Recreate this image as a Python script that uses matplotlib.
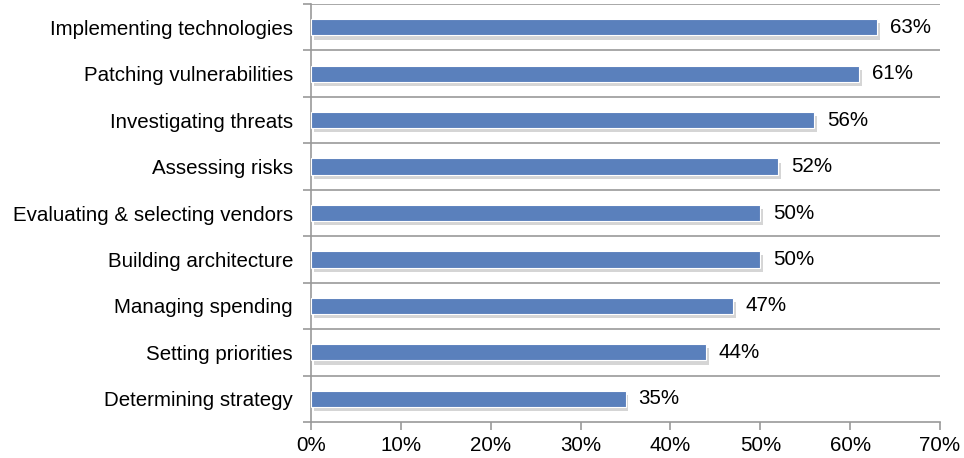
import matplotlib
matplotlib.use("Agg")
import matplotlib.pyplot as plt
import matplotlib.patheffects as pe
from matplotlib.ticker import FuncFormatter

categories = ["Implementing technologies", "Patching vulnerabilities", "Investigating threats",
              "Assessing risks", "Evaluating & selecting vendors", "Building architecture",
              "Managing spending", "Setting priorities", "Determining strategy"]
values = [63, 61, 56, 52, 50, 50, 47, 44, 35]
xticks = [0, 10, 20, 30, 40, 50, 60, 70]

plt.rcParams['font.family'] = ['Liberation Sans', 'DejaVu Sans']
FS = 14.8

fig = plt.figure(figsize=(9.64, 4.58), dpi=100)
ax = fig.add_axes([311/964, 1-422/458, (940-311)/964, (422-4)/458])

n = len(categories)
ypos = list(range(n))[::-1]
bars = ax.barh(ypos, values, height=0.35, color="#5A80BC", edgecolor="white", linewidth=0.8, zorder=3)
for b in bars:
    b.set_path_effects([pe.SimplePatchShadow(offset=(2, -3), shadow_rgbFace="#888888", alpha=0.35),
                        pe.Normal()])
for y, v in zip(ypos, values):
    ax.annotate(f"{v}%", xy=(v, y), xytext=(9, 0), textcoords="offset points",
                va="center", ha="left", fontsize=FS, color="black")

ax.set_xlim(0, 70)
ax.set_ylim(-0.5, n - 0.5)
ax.set_xticks(xticks)
ax.xaxis.set_major_formatter(FuncFormatter(lambda x, p: f"{int(x)}%"))
ax.set_yticks(ypos)
ax.set_yticklabels(categories)
ax.tick_params(axis='y', length=0, labelsize=FS, pad=13)
ax.tick_params(axis='x', length=6, width=1.2, color="#999999", labelsize=FS, pad=4)

# category boundaries: gridlines and minor ticks
bounds = [i - 0.5 for i in range(n + 1)]
ax.set_yticks(bounds, minor=True)
ax.tick_params(axis='y', which='minor', length=6, width=1.2, color="#999999")
for bnd in bounds[1:]:
    ax.axhline(bnd, color="#999999", linewidth=1.2, zorder=1)

for s in ["top", "right"]:
    ax.spines[s].set_visible(False)
for s in ["left", "bottom"]:
    ax.spines[s].set_color("#999999")
    ax.spines[s].set_linewidth(1.2)

fig.savefig("out.png", dpi=100)
